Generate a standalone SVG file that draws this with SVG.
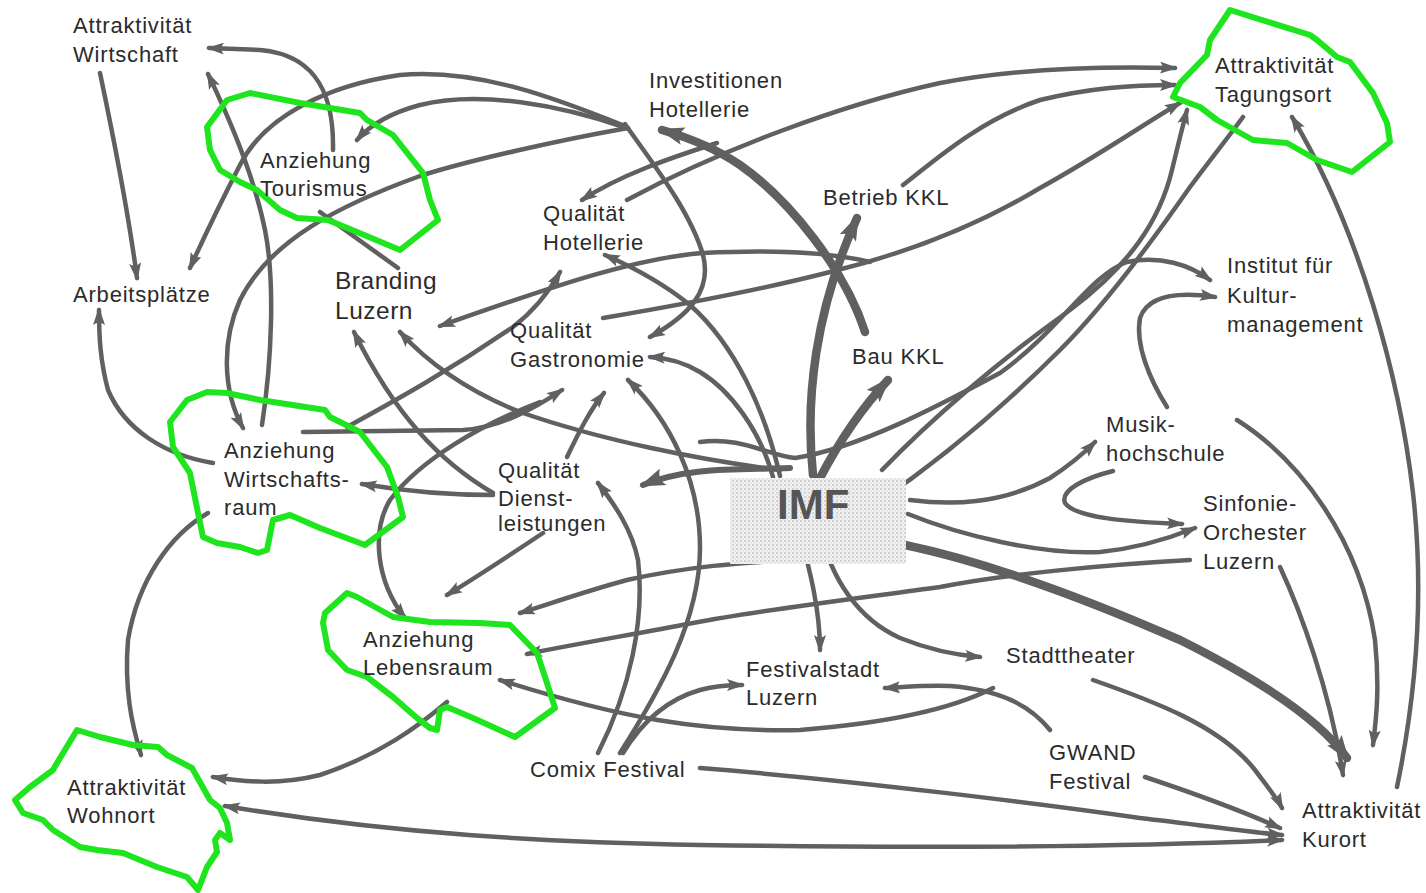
<svg xmlns="http://www.w3.org/2000/svg" width="1426" height="893" viewBox="0 0 1426 893">
<defs>
<style>
.t{font-family:"Liberation Sans",Arial,Helvetica,sans-serif;font-size:22px;letter-spacing:0.8px;fill:#2b2b2b}
.tb{font-size:24.5px;letter-spacing:0.5px}
.imf{font-family:"Liberation Sans",Arial,sans-serif;font-weight:bold;font-size:42px;fill:#555}
.c{fill:none;stroke:#606060;stroke-width:4.5;stroke-linecap:round;stroke-linejoin:round}
.a{marker-end:url(#ah)}
.k{stroke-width:8.5}
.ka{marker-end:url(#ahk)}
.g{fill:none;stroke:#1fe51f;stroke-width:6;stroke-linejoin:round;stroke-linecap:round}
</style>
<marker id="ah" viewBox="0 0 18 12" refX="15" refY="6" markerWidth="18" markerHeight="12" markerUnits="userSpaceOnUse" orient="auto-start-reverse">
<path d="M0,0 L18,6 L0,12 Q5,6 0,0 Z" fill="#606060"/>
</marker>
<marker id="ahk" viewBox="0 0 26 18" refX="22" refY="9" markerWidth="26" markerHeight="18" markerUnits="userSpaceOnUse" orient="auto">
<path d="M0,0 L26,9 L0,18 Q7,9 0,0 Z" fill="#606060"/>
</marker>
<pattern id="stip" width="4" height="4" patternUnits="userSpaceOnUse">
<rect width="4" height="4" fill="#f1f1f1"/>
<circle cx="1" cy="1" r="0.8" fill="#a8a8a8"/>
<circle cx="3" cy="3" r="0.6" fill="#c4c4c4"/>
</pattern>
</defs>
<rect width="1426" height="893" fill="#ffffff"/>

<g id="connectors">
<path class="c a" d="M333,150 C334,100 320,55 260,50 L209,48"/>
<path class="c a" d="M100,73 C112,130 128,210 137,278"/>
<path class="c a" d="M262,425 C272,360 275,280 265,230 C255,180 235,130 208,74"/>
<path class="c a" d="M628,128 C560,140 470,160 420,176 C340,205 270,240 240,300 C222,340 222,390 243,428"/>
<path class="c a" d="M625,126 C560,100 480,68 400,75 C330,85 265,115 240,165 C222,200 205,235 190,268"/>
<path class="c a" d="M627,128 C560,105 480,90 420,105 C390,113 370,125 357,140"/>
<path class="c" d="M320,212 L398,268"/>
<path class="c a" d="M625,124 C650,160 690,210 703,255 C712,290 690,315 650,337"/>
<path class="c k ka" d="M865,332 C845,270 790,200 740,165 C715,148 690,138 662,130"/>
<path class="c k ka" d="M813,475 C805,400 815,310 857,218"/>
<path class="c k ka" d="M820,478 C840,440 860,410 888,380"/>
<path class="c a" d="M780,476 C765,410 735,345 690,305 C665,285 635,268 605,255"/>
<path class="c a" d="M627,200 C720,150 840,105 940,83 C1020,68 1100,66 1175,68"/>
<path class="c a" d="M717,143 C670,158 620,175 582,200"/>
<path class="c a" d="M903,185 C935,160 980,120 1040,100 C1090,88 1130,85 1175,85"/>
<path class="c a" d="M603,318 C680,305 760,290 830,272 C900,255 970,230 1040,188 C1100,155 1150,120 1180,103"/>
<path class="c" d="M877,503 C940,460 1000,410 1060,350 C1110,300 1160,230 1190,187 C1210,160 1230,135 1243,117"/>
<path class="c a" d="M882,470 C930,420 1000,360 1070,310 C1130,265 1160,220 1172,170 C1178,145 1183,125 1187,110"/>
<path class="c a" d="M1397,787 C1415,700 1425,600 1413,493 C1400,380 1360,230 1292,117"/>
<path class="c a" d="M870,262 C820,250 760,250 703,253 C640,258 570,280 440,326"/>
<path class="c a" d="M700,442 C740,436 770,456 795,458 C860,448 940,405 1000,373 C1060,330 1090,275 1127,262 C1160,255 1190,265 1210,280"/>
<path class="c a" d="M1167,407 C1150,380 1135,345 1140,318 C1148,295 1180,292 1215,297"/>
<path class="c a" d="M910,500 C950,505 1000,505 1050,478 C1070,465 1085,452 1095,442"/>
<path class="c a" d="M1113,471 C1085,478 1060,490 1065,503 C1075,518 1130,522 1182,524"/>
<path class="c a" d="M908,514 C960,535 1040,555 1100,552 C1140,548 1170,538 1195,528"/>
<path class="c a" d="M1190,560 C1100,565 1000,575 940,587 C860,598 760,610 693,623 C630,635 570,645 527,654"/>
<path class="c a" d="M790,560 C740,563 690,566 627,580 C590,590 555,602 520,613"/>
<path class="c k ka" d="M905,545 C1000,565 1100,605 1180,640 C1260,680 1320,720 1347,758"/>
<path class="c a" d="M1280,567 C1300,610 1330,690 1343,775"/>
<path class="c a" d="M1237,420 C1300,460 1360,540 1375,640 C1380,690 1376,720 1373,745"/>
<path class="c a" d="M1093,680 C1150,700 1220,725 1255,770 C1270,790 1278,800 1282,808"/>
<path class="c a" d="M1145,777 C1190,792 1240,810 1280,828"/>
<path class="c a" d="M700,768 C850,780 1050,805 1140,818 C1200,825 1250,832 1282,835"/>
<path class="c a" d="M1282,840 C1100,848 900,848 700,845 C550,842 400,835 225,806" style="marker-start:url(#ah)"/>
<path class="c a" d="M447,702 C420,725 380,755 320,775 C280,785 245,782 213,777"/>
<path class="c a" d="M208,513 C170,535 138,580 128,640 C124,690 132,725 141,755"/>
<path class="c a" d="M213,463 C165,455 125,430 108,390 C100,360 99,335 99,310"/>
<path class="c a" d="M820,527 C830,580 860,620 900,638 C930,650 955,655 980,657"/>
<path class="c a" d="M798,527 C810,570 820,610 820,650"/>
<path class="c a" d="M1050,730 C1030,705 1000,690 950,686 C925,685 905,687 885,688"/>
<path class="c a" d="M993,688 C960,705 900,722 800,730 C700,732 620,718 500,680"/>
<path class="c a" d="M623,753 C640,725 665,700 700,690 C715,686 728,685 742,685"/>
<path class="c a" d="M598,753 C630,690 645,620 638,560 C632,530 615,505 598,483"/>
<path class="c a" d="M620,753 C660,690 700,620 700,548 C700,480 670,420 628,380"/>
<path class="c a" d="M773,477 C760,430 730,390 700,372 C685,363 670,358 650,357"/>
<path class="c a" d="M493,493 C440,462 395,415 354,332"/>
<path class="c a" d="M780,470 C700,460 600,440 520,412 C470,392 430,365 400,332"/>
<path class="c a" d="M303,432 L463,430 C500,428 535,408 562,390"/>
<path class="c a" d="M347,427 C400,398 450,370 513,327 C535,310 550,290 560,272"/>
<path class="c a" d="M493,495 C450,495 410,492 362,484"/>
<path class="c a" d="M540,402 C480,425 420,460 390,500 C372,530 375,580 405,618"/>
<path class="c a" d="M567,457 C580,430 590,410 604,393"/>
<path class="c a" d="M543,533 C510,555 480,575 447,595"/>
<path class="c ka" style="stroke-width:6" d="M790,468 C740,470 690,466 643,485"/>
</g>

<g id="imf">
<rect x="730" y="478" width="176" height="86" fill="url(#stip)"/>
<text class="imf" x="777" y="519">IMF</text>
</g>
<g id="attraktivitaet-wirtschaft"><text class="t" x="73" y="33">Attraktivität</text><text class="t" x="73" y="62">Wirtschaft</text></g>
<g id="arbeitsplaetze"><text class="t" x="73" y="302">Arbeitsplätze</text></g>
<g id="anziehung-tourismus">
<path class="g" d="M207,127 L227,100 L250,93 L300,103 L360,113 L367,120 L393,135 L423,173 L430,200 L438,220 L400,250 L357,232 L328,220 L297,218 L280,210 L257,190 L240,182 L220,170 L210,150 Z"/>
<text class="t" x="260" y="168">Anziehung</text><text class="t" x="260" y="196">Tourismus</text></g>
<g id="branding-luzern"><text class="t tb" x="335" y="289">Branding</text><text class="t tb" x="335" y="319">Luzern</text></g>
<g id="investitionen-hotellerie"><text class="t" x="649" y="88">Investitionen</text><text class="t" x="649" y="117">Hotellerie</text></g>
<g id="qualitaet-hotellerie"><text class="t" x="543" y="221">Qualität</text><text class="t" x="543" y="250">Hotellerie</text></g>
<g id="betrieb-kkl"><text class="t" x="823" y="205">Betrieb KKL</text></g>
<g id="qualitaet-gastronomie"><text class="t" x="510" y="338">Qualität</text><text class="t" x="510" y="367">Gastronomie</text></g>
<g id="bau-kkl"><text class="t" x="852" y="364">Bau KKL</text></g>
<g id="attraktivitaet-tagungsort">
<path class="g" d="M1230,10 L1310,35 L1317,40 L1337,57 L1350,62 L1373,93 L1387,123 L1390,142 L1352,172 L1317,160 L1287,143 L1253,140 L1217,120 L1200,107 L1173,97 L1180,83 L1207,55 L1210,40 Z"/>
<text class="t" x="1215" y="73">Attraktivität</text><text class="t" x="1215" y="102">Tagungsort</text></g>
<g id="institut-kulturmanagement"><text class="t" x="1227" y="273">Institut für</text><text class="t" x="1227" y="303">Kultur-</text><text class="t" x="1227" y="332">management</text></g>
<g id="musikhochschule"><text class="t" x="1106" y="432">Musik-</text><text class="t" x="1106" y="461">hochschule</text></g>
<g id="sinfonie-orchester"><text class="t" x="1203" y="511">Sinfonie-</text><text class="t" x="1203" y="540">Orchester</text><text class="t" x="1203" y="569">Luzern</text></g>
<g id="anziehung-wirtschaftsraum">
<path class="g" d="M170,422 L187,400 L207,392 L227,393 L260,400 L325,410 L330,417 L360,432 L387,467 L398,497 L403,517 L365,545 L320,528 L290,515 L273,520 L267,550 L258,553 L240,547 L217,543 L203,537 L198,513 L190,473 L173,447 Z"/>
<text class="t" x="224" y="458">Anziehung</text><text class="t" x="224" y="487">Wirtschafts-</text><text class="t" x="224" y="515">raum</text></g>
<g id="qualitaet-dienstleistungen"><text class="t" x="498" y="478">Qualität</text><text class="t" x="498" y="506">Dienst-</text><text class="t" x="498" y="531">leistungen</text></g>
<g id="anziehung-lebensraum">
<path class="g" d="M325,613 L347,593 L357,597 L393,617 L430,622 L480,623 L510,625 L537,653 L547,683 L555,708 L515,737 L473,718 L447,707 L440,710 L437,730 L430,728 L417,718 L393,697 L367,677 L347,670 L328,650 L323,623 Z"/>
<text class="t" x="363" y="647">Anziehung</text><text class="t" x="363" y="675">Lebensraum</text></g>
<g id="festivalstadt-luzern"><text class="t" x="746" y="677">Festivalstadt</text><text class="t" x="746" y="705">Luzern</text></g>
<g id="stadttheater"><text class="t" x="1006" y="663">Stadttheater</text></g>
<g id="gwand-festival"><text class="t" x="1049" y="760">GWAND</text><text class="t" x="1049" y="789">Festival</text></g>
<g id="comix-festival"><text class="t" x="530" y="777">Comix Festival</text></g>
<g id="attraktivitaet-kurort"><text class="t" x="1302" y="818">Attraktivität</text><text class="t" x="1302" y="847">Kurort</text></g>
<g id="attraktivitaet-wohnort">
<path class="g" d="M77,730 L100,737 L133,745 L158,747 L167,755 L192,768 L210,800 L220,808 L227,823 L230,840 L220,833 L215,840 L217,852 L207,867 L198,890 L187,877 L157,867 L140,860 L123,853 L97,850 L80,847 L53,830 L43,820 L23,813 L15,800 L30,787 L53,770 L57,763 Z"/>
<text class="t" x="67" y="795">Attraktivität</text><text class="t" x="67" y="823">Wohnort</text></g>
</svg>
